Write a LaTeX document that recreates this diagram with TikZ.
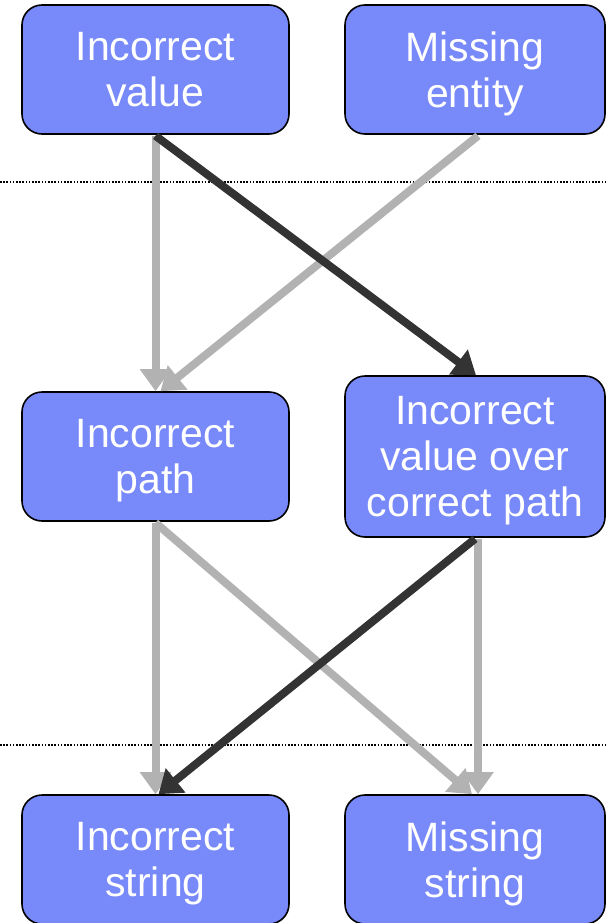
\documentclass[tikz,border=0pt]{standalone}
\usepackage{fontspec}
\setmainfont{Liberation Sans}
\usetikzlibrary{arrows.meta}
\definecolor{boxblue}{RGB}{120,137,250}
\definecolor{lightarrow}{RGB}{178,178,178}
\definecolor{darkarrow}{RGB}{51,51,51}
\newcommand{\nodesc}[1]{\raisebox{0pt}[\height][0pt]{#1}}
\tikzset{
  errbox/.style={draw=black, line width=1.6pt, fill=boxblue, rounded corners=20pt,
    text=white, align=center, inner sep=0pt,
    font=\fontsize{41}{46}\selectfont},
  lightconn/.style={draw=lightarrow, line width=8pt, -{Triangle[length=22pt,width=30pt]}},
  darkconn/.style={draw=darkarrow, line width=8pt, -{Triangle[length=22pt,width=30pt]}},
  divider/.style={draw=black, line width=1.8pt, dash pattern=on 1.6pt off 1.6pt}
}
\begin{document}
\begin{tikzpicture}[x=1pt,y=-1pt]
\useasboundingbox (0,0) rectangle (605,923);
% dividers
\coordinate (d1l) at (0,182);
\coordinate (d1r) at (605,182);
\coordinate (d2l) at (0,745);
\coordinate (d2r) at (605,745);
\draw[divider] (d1l) -- (d1r);
\draw[divider] (d2l) -- (d2r);
% boxes
\node[errbox, minimum width=267pt, minimum height=129pt] (iv) at (155.5,69.5) {Incorrect\\value};
\node[errbox, minimum width=260pt, minimum height=129pt] (me) at (475,69.5) {Missing\\\nodesc{entity}};
\node[errbox, minimum width=267pt, minimum height=129pt] (ip) at (155.5,456.5) {Incorrect\\\nodesc{path}};
\node[errbox, minimum width=260pt, minimum height=161pt] (ivo) at (475,456.5) {Incorrect\\value over\\\nodesc{correct path}};
\node[errbox, minimum width=267pt, minimum height=129pt] (is) at (155.5,859.5) {Incorrect\\\nodesc{string}};
\node[errbox, minimum width=260pt, minimum height=129pt] (ms) at (475,859.5) {Missing\\\nodesc{string}};
% connectors
\draw[lightconn] ([yshift=-1pt]iv.south) -- (ip.north);
\draw[lightconn] ([xshift=3pt,yshift=-1pt]me.south) -- ([xshift=5pt]ip.north);
\draw[darkconn] ([yshift=-1pt]iv.south) -- ([xshift=1pt]ivo.north);
\draw[lightconn] ([yshift=-1pt]ip.south) -- (is.north);
\draw[lightconn] ([yshift=-1pt]ip.south) -- ([xshift=-3pt]ms.north);
\draw[lightconn] ([xshift=3pt,yshift=-1pt]ivo.south) -- ([xshift=3pt]ms.north);
\draw[darkconn] ([yshift=-1pt]ivo.south) -- ([xshift=3pt]is.north);
\end{tikzpicture}
\end{document}
